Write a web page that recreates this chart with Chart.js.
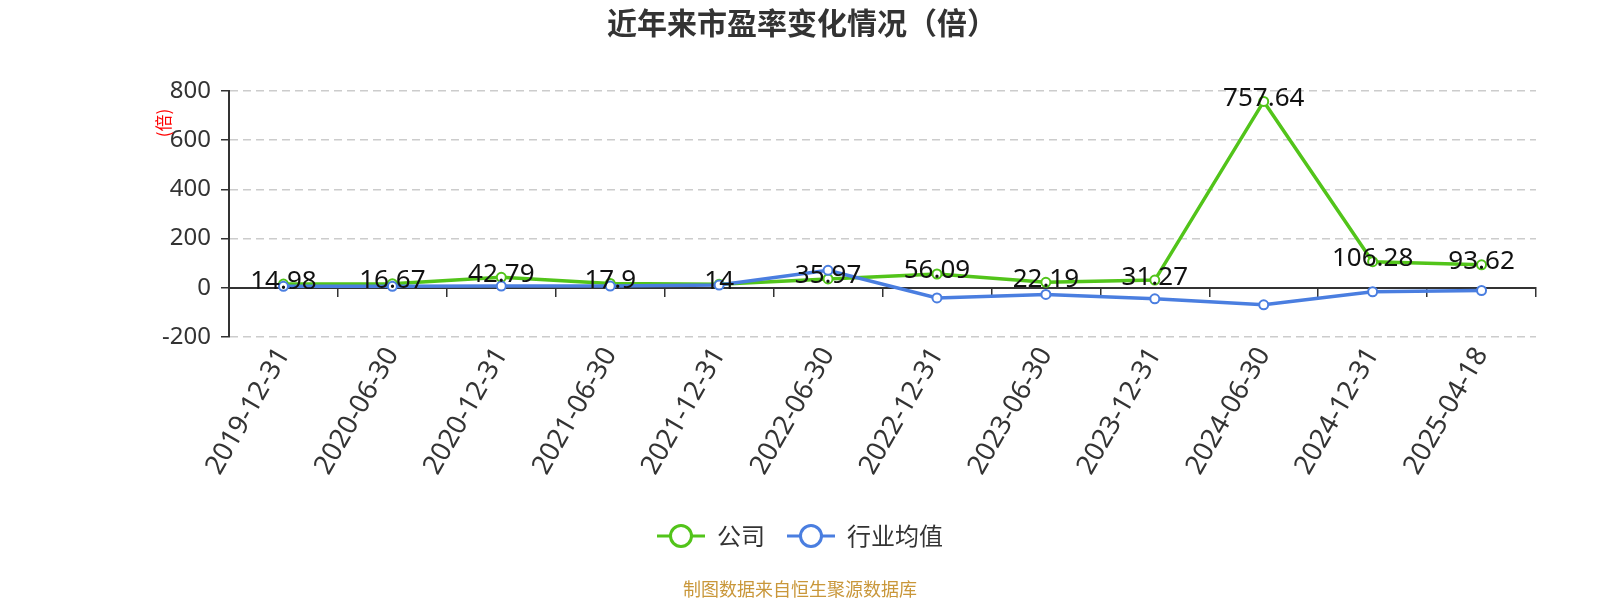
<!DOCTYPE html>
<html><head><meta charset="utf-8">
<script src="https://cdn.jsdelivr.net/npm/chart.js@4/dist/chart.umd.min.js"></script>
<style>html,body{margin:0;padding:0;background:#fff}#wrap{width:1600px;height:600px;position:relative}canvas{display:block}</style>
</head><body><div id="wrap"><canvas id="c" width="1600" height="600" style="width:1600px;height:600px"></canvas></div>
<script>
const categories = ['2019-12-31','2020-06-30','2020-12-31','2021-06-30','2021-12-31','2022-06-30','2022-12-31','2023-06-30','2023-12-31','2024-06-30','2024-12-31','2025-04-18'];
const companyPE = [14.98,16.67,42.79,17.9,14,35.97,56.09,22.19,31.27,757.64,106.28,93.62];
const industryPE = [6,6,7,7,11,71,-41,-27,-45,-69,-16,-11];
const seriesNames = ['公司','行业均值'];
const yMin = -200, yMax = 800, yStep = 200;
const titleText = '近年来市盈率变化情况（倍）';
const unitText = '(倍)';
const sourceText = '制图数据来自恒生聚源数据库';

const GREEN = '#52c41a', BLUE = '#4a7ee0';
const FONT = '"Noto Sans", "Noto Sans CJK SC", sans-serif';
const CJK = '"Noto Sans CJK SC", "Noto Sans", sans-serif';

function legendIcon(color){
  const c = document.createElement('canvas');
  c.width = 48; c.height = 28;
  const g = c.getContext('2d');
  g.strokeStyle = color; g.lineWidth = 3;
  g.beginPath(); g.moveTo(0,14); g.lineTo(48,14); g.stroke();
  g.fillStyle = '#fff'; g.lineWidth = 3;
  g.beginPath(); g.arc(24,14,10.5,0,Math.PI*2); g.fill(); g.stroke();
  return c;
}
const icons = [legendIcon(GREEN), legendIcon(BLUE)];

const decor = {
  id:'decor',
  afterDatasetsDraw(chart){
    const ctx = chart.ctx;
    const meta = chart.getDatasetMeta(0);
    ctx.save();
    ctx.font = '26px ' + FONT;
    ctx.fillStyle = '#111';
    ctx.textAlign = 'center'; ctx.textBaseline = 'middle';
    meta.data.forEach((pt,i)=>{
      ctx.fillText(String(companyPE[i]), pt.x, pt.y - 3);
    });
    ctx.restore();
  },
  afterDraw(chart){
    const ctx = chart.ctx;
    ctx.save();
    ctx.font = 'bold 30px ' + CJK;
    ctx.fillStyle = '#333';
    ctx.textAlign = 'center'; ctx.textBaseline = 'middle';
    ctx.fillText(titleText, 802, 23);
    ctx.font = '18px ' + CJK;
    ctx.fillStyle = '#c9973a';
    ctx.fillText(sourceText, 800, 589);
    ctx.translate(164, 123);
    ctx.rotate(-Math.PI/2);
    ctx.font = '17px ' + CJK;
    ctx.fillStyle = '#ff0000';
    ctx.fillText(unitText, 0, 0);
    ctx.restore();
  }
};

new Chart(document.getElementById('c'), {
  type:'line',
  data:{
    labels: categories,
    datasets:[
      {label:seriesNames[0], data:companyPE, borderColor:GREEN, backgroundColor:'#fff', borderWidth:3.5,
       pointRadius:4.5, pointBorderWidth:2, pointBackgroundColor:'#fff', pointBorderColor:GREEN, tension:0, order:2},
      {label:seriesNames[1], data:industryPE, borderColor:BLUE, backgroundColor:'#fff', borderWidth:3.5,
       pointRadius:4.5, pointBorderWidth:2, pointBackgroundColor:'#fff', pointBorderColor:BLUE, tension:0, order:1}
    ]
  },
  options:{
    responsive:false, maintainAspectRatio:false, animation:false, devicePixelRatio:1,
    layout:{padding:{top:91, right:64, left:64, bottom:42}},
    plugins:{
      title:{display:false}, tooltip:{enabled:false},
      legend:{display:true, position:'bottom',
        labels:{usePointStyle:true, pointStyleWidth:48, padding:22, color:'#333',
          font:{size:24, family:CJK},
          generateLabels(chart){
            return chart.data.datasets.map((d,i)=>({text:d.label, pointStyle:icons[i], datasetIndex:i,
              fillStyle:'#fff', strokeStyle:d.borderColor, lineWidth:0, hidden:false, fontColor:'#333'}));
          }}}
    },
    scales:{
      x:{type:'category', offset:true, grid:{display:false}, border:{display:false},
        ticks:{minRotation:60, maxRotation:60, autoSkip:false, padding:-3, color:'#333', font:{size:27, family:FONT}},
        afterFit(s){ s.height = 165; }},
      x0:{type:'category', position:{y:0}, offset:true,
        grid:{offset:true, drawOnChartArea:false, drawTicks:true, tickLength:8, color:'#333', lineWidth:1.5},
        border:{display:true, color:'#333', width:2},
        ticks:{display:false}},
      y:{min:yMin, max:yMax,
        ticks:{stepSize:yStep, padding:10, color:'#333', font:{size:24, family:FONT}},
        grid:{color:'#ccc', lineWidth:1.5, drawTicks:true, tickLength:8, tickColor:'#333', tickWidth:1.5},
        border:{display:true, color:'#333', width:2, dash:[8,5]},
        afterFit(s){ s.width = 165; }}
    }
  },
  plugins:[decor]
});
</script></body></html>
